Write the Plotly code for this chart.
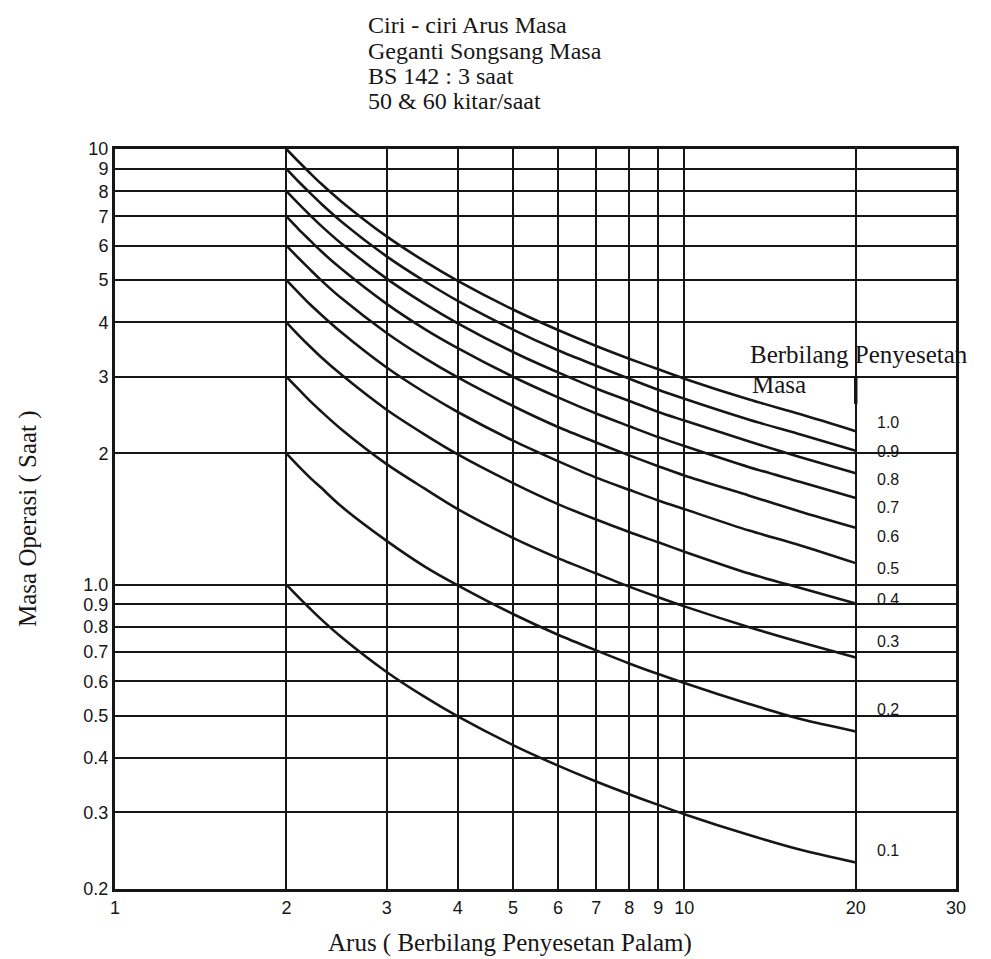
import plotly.graph_objects as go
import math

# ---- data ----
current_x = [2, 2.1, 2.2, 2.3, 2.5, 3, 3.5, 4, 5, 6, 7, 8, 9, 10, 13, 16, 20]
tms_labels = ["1.0", "0.9", "0.8", "0.7", "0.6", "0.5", "0.4", "0.3", "0.2", "0.1"]
t_10 = [10.0, 9.36, 8.81, 8.33, 7.57, 6.30, 5.52, 4.98, 4.28, 3.84, 3.53, 3.30, 3.12, 2.97, 2.66, 2.46, 2.25]
t_09 = [9.0, 8.42, 7.93, 7.50, 6.81, 5.67, 4.97, 4.48, 3.85, 3.45, 3.18, 2.97, 2.80, 2.67, 2.39, 2.21, 2.03]
t_08 = [8.0, 7.49, 7.05, 6.67, 6.06, 5.04, 4.41, 3.98, 3.42, 3.07, 2.82, 2.64, 2.49, 2.38, 2.13, 1.96, 1.80]
t_07 = [7.0, 6.55, 6.17, 5.83, 5.30, 4.41, 3.86, 3.49, 3.00, 2.69, 2.47, 2.31, 2.18, 2.08, 1.86, 1.72, 1.58]
t_06 = [6.0, 5.62, 5.29, 5.00, 4.54, 3.78, 3.31, 2.99, 2.57, 2.30, 2.12, 1.98, 1.87, 1.78, 1.60, 1.47, 1.35]
t_05 = [5.0, 4.68, 4.40, 4.17, 3.79, 3.15, 2.76, 2.49, 2.14, 1.92, 1.76, 1.65, 1.56, 1.49, 1.33, 1.23, 1.12]
t_04 = [4.0, 3.74, 3.52, 3.33, 3.03, 2.52, 2.21, 1.99, 1.71, 1.53, 1.41, 1.32, 1.25, 1.19, 1.06, 0.982, 0.905]
t_03 = [3.0, 2.81, 2.64, 2.50, 2.27, 1.89, 1.66, 1.49, 1.28, 1.15, 1.06, 0.989, 0.935, 0.891, 0.798, 0.737, 0.68]
t_02 = [2.0, 1.87, 1.76, 1.67, 1.51, 1.26, 1.10, 0.996, 0.856, 0.767, 0.706, 0.659, 0.623, 0.594, 0.532, 0.491, 0.46]
t_01 = [1.0, 0.936, 0.881, 0.833, 0.757, 0.630, 0.552, 0.498, 0.428, 0.384, 0.353, 0.330, 0.312, 0.297, 0.266, 0.246, 0.23]
series = [t_10, t_09, t_08, t_07, t_06, t_05, t_04, t_03, t_02, t_01]

x_ticks = [1, 2, 3, 4, 5, 6, 7, 8, 9, 10, 20, 30]
y_ticks = [0.2, 0.3, 0.4, 0.5, 0.6, 0.7, 0.8, 0.9, 1.0, 2, 3, 4, 5, 6, 7, 8, 9, 10]
y_tick_text = ["0.2", "0.3", "0.4", "0.5", "0.6", "0.7", "0.8", "0.9", "1.0",
               "2", "3", "4", "5", "6", "7", "8", "9", "10"]

title_lines = ["Ciri - ciri Arus Masa", "Geganti Songsang Masa",
               "BS 142 : 3 saat", "50 & 60 kitar/saat"]
caption_lines = ["Berbilang Penyesetan", "Masa"]
x_title = "Arus ( Berbilang Penyesetan Palam)"
y_title = "Masa Operasi ( Saat )"

# label positions (layout, data-space y for the TMS labels)
label_y = [2.35, 2.02, 1.745, 1.506, 1.29, 1.087, 0.922, 0.74, 0.517, 0.245]

SERIF = "Liberation Serif, Times New Roman, serif"
SANS = "Liberation Sans, Arial, sans-serif"
INK = "#161616"

# figure geometry (page has an 8px body margin)
W, H = 991, 959
OFF = 8
L, R, T, B = 107, 43, 141, 78
WP, HP = W - L - R, H - T - B


def px(page_x):
    return (page_x - OFF - L) / WP


def py(page_y):
    return (H - B - (page_y - OFF)) / HP


fig = go.Figure()
for name, ys in zip(tms_labels, series):
    fig.add_trace(go.Scatter(x=current_x, y=ys, mode="lines", name=name,
                             line=dict(color=INK, width=2.6, shape="spline", smoothing=0.8),
                             showlegend=False))

for name, ly in zip(tms_labels, label_y):
    fig.add_annotation(x=math.log10(20), y=math.log10(ly), xref="x", yref="y",
                       text=name, showarrow=False, xanchor="left", yanchor="middle",
                       xshift=19, font=dict(family=SANS, size=16, color=INK))

for i, line in enumerate(title_lines):
    fig.add_annotation(x=px(366), y=py(25 + 25.5 * i), xref="paper", yref="paper",
                       text=line, showarrow=False, xanchor="left", yanchor="middle",
                       font=dict(family=SERIF, size=24, color=INK))

fig.add_annotation(x=px(748), y=py(354), xref="paper", yref="paper",
                   text=caption_lines[0], showarrow=False, xanchor="left", yanchor="middle",
                   font=dict(family=SERIF, size=25, color=INK))
fig.add_annotation(x=px(750), y=py(384), xref="paper", yref="paper",
                   text=caption_lines[1], showarrow=False, xanchor="left", yanchor="middle",
                   font=dict(family=SERIF, size=25, color=INK))

fig.add_annotation(x=px(510), y=py(943), xref="paper", yref="paper",
                   text=x_title, showarrow=False, xanchor="center", yanchor="middle",
                   font=dict(family=SERIF, size=25, color=INK))
fig.add_annotation(x=px(28), y=py(519), xref="paper", yref="paper",
                   text=y_title, showarrow=False, textangle=-90,
                   xanchor="center", yanchor="middle",
                   font=dict(family=SERIF, size=25, color=INK))

# small stroke on the x=20 line below the caption
fig.add_shape(type="line", xref="x", yref="y", x0=20, x1=20, y0=3, y1=2.6,
              line=dict(color=INK, width=3.5))

fig.update_layout(
    width=W, height=H,
    margin=dict(l=L, r=R, t=T, b=B),
    paper_bgcolor="white", plot_bgcolor="white",
    showlegend=False,
)

axis_common = dict(showgrid=True, gridcolor=INK, gridwidth=2,
                   showline=True, linecolor=INK, linewidth=3, mirror=True,
                   ticks="", zeroline=False,
                   tickfont=dict(family=SANS, size=18, color=INK))
fig.update_xaxes(type="log", range=[0, math.log10(30)],
                 tickmode="array", tickvals=x_ticks, ticktext=[str(v) for v in x_ticks],
                 **axis_common)
fig.update_yaxes(type="log", range=[math.log10(0.2), 1],
                 tickmode="array", tickvals=y_ticks, ticktext=y_tick_text,
                 **axis_common)

fig.write_html("out.html")
